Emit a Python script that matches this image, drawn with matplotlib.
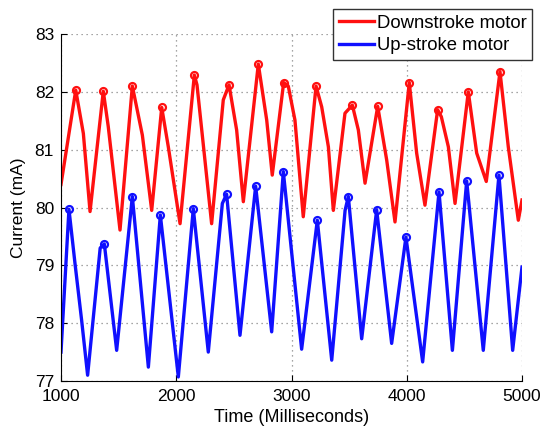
import numpy as np
import matplotlib
matplotlib.use("Agg")
import matplotlib.pyplot as plt

plt.rcParams["font.family"] = ["Liberation Sans", "DejaVu Sans"]

# Downstroke motor
down_t = [1000, 1128, 1194, 1252, 1367, 1410, 1512, 1619, 1706, 1787, 1874, 1931,
          2033, 2157, 2180, 2307, 2408, 2458, 2524, 2582, 2712, 2785, 2833, 2932,
          2972, 3030, 3102, 3213, 3262, 3320, 3363, 3464, 3528, 3580, 3638, 3748,
          3826, 3898, 4022, 4086, 4158, 4268, 4300, 4361, 4419, 4534, 4607, 4690,
          4809, 4881, 4968, 5000]
down_ma = [80.40, 82.03, 81.28, 79.93, 82.01, 81.40, 79.61, 82.10, 81.25, 79.95, 81.73, 81.05,
           79.72, 82.29, 82.12, 79.72, 81.86, 82.12, 81.34, 80.10, 82.48, 81.51, 80.56, 82.16,
           82.10, 81.51, 79.84, 82.10, 81.74, 81.05, 79.95, 81.63, 81.77, 81.34, 80.42, 81.75,
           80.82, 79.75, 82.16, 80.94, 80.04, 81.69, 81.57, 81.05, 80.07, 82.00, 80.94, 80.45,
           82.35, 81.05, 79.78, 80.13]

# Up-stroke motor
up_t = [1000, 1069, 1121, 1179, 1231, 1340, 1376, 1483, 1619, 1758, 1862, 2018, 2148, 2278,
        2400, 2437, 2553, 2689, 2828, 2929, 3088, 3224, 3349, 3465, 3493, 3609,
        3739, 3869, 3993, 4138, 4280, 4396, 4520, 4664, 4800, 4919, 5000]
up_ma = [77.50, 79.97, 79.04, 78.05, 77.10, 79.30, 79.37, 77.53, 80.19, 77.24, 79.87, 77.07,
         79.98, 77.50, 80.07, 80.23, 77.79, 80.37, 77.85, 80.62, 77.55, 79.78, 77.36, 79.95,
         80.19, 77.73, 79.96, 77.65, 79.49, 77.33, 80.27, 77.53, 80.46, 77.53, 80.56, 77.53,
         78.97]


def peaks(v):
    v = np.asarray(v)
    return [i for i in range(1, len(v) - 1) if v[i] > v[i - 1] and v[i] > v[i + 1]]


fig = plt.figure(figsize=(5.44, 4.32), dpi=100)
ax = fig.add_axes([61 / 544, 1 - 381 / 432, 461 / 544, 347 / 432])

ax.plot(down_t, down_ma, color="#ff1010", lw=2.4, label="Downstroke motor")
ax.plot(up_t, up_ma, color="#1010ff", lw=2.4, label="Up-stroke motor")
ax.plot(down_t, down_ma, ls="none", marker="o", ms=5, mfc="none", mec="#ff1010",
        mew=1.6, markevery=peaks(down_ma))
ax.plot(up_t, up_ma, ls="none", marker="o", ms=5, mfc="none", mec="#1010ff",
        mew=1.6, markevery=peaks(up_ma))

ax.set_xlim(1000, 5000)
ax.set_ylim(77, 83)
ax.set_xticks([1000, 2000, 3000, 4000, 5000])
ax.set_yticks([77, 78, 79, 80, 81, 82, 83])
ax.grid(True, ls=(0, (1, 3)), color="#888888", lw=0.9)
ax.tick_params(direction="in", labelsize=12.5, length=4)
ax.tick_params(axis="y", pad=5)
ax.tick_params(axis="x", pad=6)
ax.spines["top"].set_visible(False)
ax.spines["right"].set_visible(False)
ax.set_xlabel("Time (Milliseconds)", fontsize=13, labelpad=3)
ax.set_ylabel("Current (mA)", fontsize=12.5, labelpad=6)

leg = ax.legend(loc="upper right", bbox_to_anchor=(532 / 544, 1 - 9 / 432),
                bbox_transform=fig.transFigure, fontsize=13.3, fancybox=False,
                framealpha=1, edgecolor="#333333", handlelength=1.9,
                borderpad=0.3, labelspacing=0.3, handletextpad=0.15,
                borderaxespad=0)
leg.get_frame().set_linewidth(1.0)

fig.savefig("out.png", dpi=100)
